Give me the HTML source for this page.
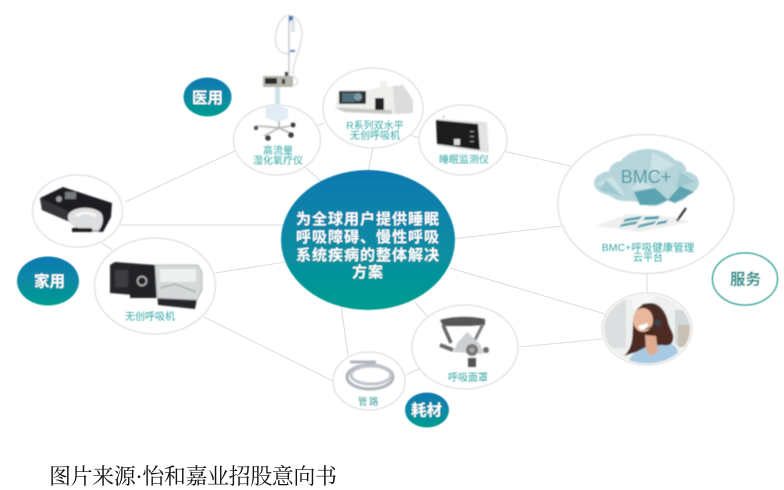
<!DOCTYPE html>
<html lang="zh"><head><meta charset="utf-8"><style>
html,body{margin:0;padding:0;background:#fff;width:784px;height:490px;overflow:hidden}
svg{display:block}
text{font-family:"Liberation Sans","Noto Sans CJK SC",sans-serif}
.l{fill:#36a8a6;font-size:10px;text-anchor:middle}
.w{fill:#fff;font-weight:700;text-anchor:middle}
.c{fill:#fff;stroke:#dfdfdf;stroke-width:1.3}
</style></head><body>
<svg width="784" height="490" viewBox="0 0 784 490" xmlns="http://www.w3.org/2000/svg">
<defs>
<linearGradient id="g" x1="0" y1="0" x2="0" y2="1"><stop offset="0" stop-color="#0d78b0"/><stop offset=".45" stop-color="#0a88a6"/><stop offset="1" stop-color="#029c90"/></linearGradient>
<filter id="b" x="-5%" y="-5%" width="110%" height="110%"><feGaussianBlur stdDeviation=".5"/></filter>
<filter id="p" x="-5%" y="-5%" width="110%" height="110%"><feGaussianBlur stdDeviation=".8"/></filter>
<clipPath id="wc"><ellipse cx="647" cy="329" rx="43" ry="34.500"/></clipPath>
</defs>
<g stroke="#dedede" stroke-width="1.1" fill="none">
<path d="M125 202L235 151M120 225H285M215 273L285 262M204 317L333 381M341 305L348 356M102 243L112 250M305 167L322 182M317 126L324 123M373 148L368 172M410 135L419 138M489 148L571 166M452 239L562 226M450 268L605 314M647 274V293M519 347L602 339M415 302L427 316M406 375L421 368"/>
</g>
<g filter="url(#b)">
<ellipse class="c" cx="277" cy="140" rx="43.5" ry="35"/>
<ellipse class="c" cx="373" cy="108" rx="50" ry="40"/>
<ellipse class="c" cx="463" cy="140" rx="44" ry="35"/>
<ellipse class="c" cx="646" cy="204" rx="88" ry="69.5"/>
<ellipse class="c" cx="647" cy="329" rx="45" ry="36"/>
<ellipse class="c" cx="465" cy="347" rx="53" ry="42"/>
<ellipse class="c" cx="369" cy="381" rx="36" ry="29"/>
<ellipse class="c" cx="155" cy="286" rx="60.5" ry="48"/>
<ellipse class="c" cx="77.500" cy="211" rx="45" ry="36"/>
</g>

<g filter="url(#p)">
<!-- high flow stand -->
<g fill="none" stroke="#d5dcdc" stroke-width="1.3">
<path d="M287 15C278 20 274 34 276 44C278 52 284 54 290 54"/>
<path d="M288 15C300 17 304 28 301 42C299 55 293 60 293 75"/>
<path d="M293 76C300 80 298 85 293 86"/>
</g>
<path d="M289 15V76" stroke="#b9bcbd" stroke-width="1.2"/>
<rect x="289" y="16" width="4" height="5" fill="#3f78b8"/>
<rect x="291" y="20" width="4" height="12" fill="#dfe3e5"/>
<rect x="290" y="50" width="5" height="2" fill="#5a8fc0"/>
<rect x="263" y="76" width="30" height="11" rx="1.500" fill="#b4b4ac"/>
<rect x="265" y="78" width="12" height="6" fill="#25292c"/>
<rect x="282" y="79" width="3" height="5" fill="#333"/>
<rect x="285" y="72" width="3" height="4" fill="#2a3a44"/>
<rect x="275" y="87" width="5" height="18" fill="#cfe0ea"/>
<path d="M265 106L278 104L288 109V118L278 122L266 118Z" fill="#e2ecf4"/>
<path d="M279 121V128L264 136M279 128L290 126M279 128L292 134M279 128L270 127L256 126" stroke="#b9babb" stroke-width="1.8" fill="none"/>
<g fill="#3a3d3e"><circle cx="268" cy="138" r="2.800"/><circle cx="291" cy="135" r="2.800"/><circle cx="256" cy="128" r="2"/><circle cx="293" cy="125" r="2.500"/></g>

<!-- R series -->
<path d="M335 108L339 90H368L382 87L403 85L413 100V113L392 114L345 112Z" fill="#efefed"/>
<path d="M393 86L403 85L413 100V113L395 114Z" fill="#dcdcdc"/>
<path d="M335 108L345 112L392 114V110L345 108Z" fill="#c8c8c5"/>
<rect x="339" y="91" width="27" height="13" rx="1" fill="#2b2f33"/>
<rect x="342" y="93" width="13" height="9" fill="#4f6f7c"/>
<circle cx="358" cy="97" r="4" fill="#7e9aa5"/>
<rect x="375" y="98" width="9" height="12" fill="#202020"/>
<rect x="380" y="81" width="7" height="6" fill="#f1f1f1"/>

<!-- sleep monitor -->
<path d="M436 119L487 122L489 153L438 146Z" fill="#e3e3e3"/>
<path d="M436 120L478 124L480 150L437 144Z" fill="#1c1c1e"/>
<rect x="454" y="139" width="6" height="6" fill="#dcdcdc"/>
<path d="M442 117L444 115L445 118Z" fill="#bbb"/>
<g fill="#999"><rect x="470" y="131" width="4" height="1"/><rect x="470" y="136" width="4" height="1"/><rect x="470" y="141" width="4" height="1"/></g>

<!-- cloud -->
<g fill="#b6d5da">
<ellipse cx="648" cy="172" rx="31" ry="23"/><ellipse cx="612" cy="183" rx="18" ry="12"/>
<ellipse cx="682" cy="183" rx="17" ry="12"/><ellipse cx="622" cy="172" rx="13" ry="11"/>
<ellipse cx="673" cy="170" rx="13" ry="10"/><ellipse cx="647" cy="189" rx="44" ry="13"/>
<ellipse cx="653" cy="197" rx="15" ry="9"/><ellipse cx="625" cy="194" rx="14" ry="7"/>
<ellipse cx="674" cy="194" rx="14" ry="8"/>
</g>
<path d="M640 205L634 192L655 188L668 200L656 205ZM668 200L680 186L694 192L675 203Z" fill="#5aa3b0"/>
<path d="M597 184L612 176L625 195ZM652 152L675 165L650 176ZM630 190L655 188L640 180Z" fill="#cbe2e6"/>
<path d="M606 180L622 196L600 190ZM680 172L695 182L676 188Z" fill="#9cc8d0"/>

<path d="M595 226L628 214L675 217L690 222L640 232Z" fill="#efefef"/>
<g fill="#3d9dad">
<path d="M625 219L642 216L640 219L623 222ZM622 224L638 221L636 224L619 227ZM645 217L660 216L658 219L643 220Z"/>
<path d="M639 225L656 221L654 224L637 228ZM658 222L668 220L666 223L656 225Z"/>
</g>
<path d="M677 221L686 208" stroke="#222" stroke-width="2"/>

<!-- operator -->
<g clip-path="url(#wc)">
<rect x="600" y="290" width="95" height="80" fill="#eef0f0"/>
<rect x="604" y="298" width="22" height="50" fill="#dcdfe0"/>
<rect x="632" y="296" width="22" height="12" fill="#f7f7f7"/>
<rect x="675" y="310" width="16" height="35" fill="#d2d8da"/>
<rect x="678" y="325" width="12" height="22" fill="#c8c0b4"/>
<path d="M628 362C636 346 650 342 665 342C676 344 680 350 678 362L672 368H634Z" fill="#a9c9e2"/>
<path d="M624 356C634 346 632 336 633 326C632 312 640 303 650 303C660 303 666 312 668 322C670 330 675 334 673 340C672 345 668 346 662 345L648 346L636 352Z" fill="#4d2a20"/>
<ellipse cx="643" cy="320" rx="10" ry="12" fill="#e7b89e"/>
<path d="M645 335L656 336L658 352L650 356L646 350Z" fill="#e0ac90"/>
<path d="M638 326L648 323L647 329L640 330Z" fill="#fff"/>
<path d="M642 305C652 302 660 310 659 323" stroke="#333" stroke-width="1.300" fill="none"/>
<circle cx="658" cy="323" r="3.500" fill="#3a4248"/>
<path d="M657 326L645 329" stroke="#333" stroke-width="1"/>
</g>

<!-- mask -->
<path d="M440 320C452 316 472 316 485 319V325L470 326L443 326Z" fill="#575757"/>
<path d="M443 325L451 343" stroke="#666" stroke-width="3.500"/>
<path d="M483 324L475 340" stroke="#7a7a7a" stroke-width="3"/>
<path d="M467 332L480 344L484 354L453 352L458 342Z" fill="#ccd0d3"/>
<path d="M440 345L453 350" stroke="#6b6b6b" stroke-width="4"/>
<circle cx="472" cy="350" r="6" fill="#777"/><circle cx="472" cy="350" r="2.500" fill="#aaa"/>
<circle cx="486" cy="350" r="3" fill="#6d6d6d"/>
<rect x="468" y="358" width="8" height="9" fill="#555"/>

<!-- tube -->
<g fill="none" stroke="#aeb2bb" stroke-width="3">
<ellipse cx="370" cy="377" rx="23" ry="12"/>
<ellipse cx="371" cy="375" rx="20" ry="9" stroke="#c0c3ca"/>
<path d="M350 362H376"/>
</g>

<!-- ventilator -->
<path d="M110 265L115 262L155 265L158 305L195 309L197 299L157 297L110 293Z" fill="#28282c"/>
<rect x="115" y="270" width="13" height="17" fill="#3d3d41"/>
<rect x="130" y="266" width="27" height="32" fill="#242427"/>
<circle cx="142" cy="281" r="4.500" fill="none" stroke="#b8b8b8" stroke-width="1.500"/>
<path d="M155 265L198 265L202 272V290L197 300L157 298Z" fill="#d5d8d8" stroke="#a5a8a8" stroke-width=".8"/>
<path d="M160 269H196V282H160Z" fill="#eef0f0"/>
<path d="M160 288L175 284L196 292" stroke="#999" stroke-width="1" fill="none"/>

<!-- home device -->
<path d="M40 198L63 187L112 203L111 217L103 232L78 230L70 222L42 210Z" fill="#1e1e21"/>
<path d="M40 198L42 210L70 222L70 212Z" fill="#34343a"/>
<rect x="65" y="192" width="11" height="7" fill="#77797b"/>
<circle cx="59" cy="199" r="3" fill="#9a9c9e"/>
<path d="M68 215C72 207 90 205 100 212C105 216 103 227 98 231L78 228C72 226 67 222 68 215Z" fill="#dcdedf"/>
<path d="M76 216C82 212 90 212 96 216" stroke="#f8f8f8" stroke-width="3" fill="none"/>
<rect x="72" y="228" width="20" height="4" fill="#1a1a1a"/>
</g>

<g filter="url(#b)">
<text class="l" x="278" y="154">高流量</text>
<text class="l" x="278" y="164">湿化氧疗仪</text>
<text class="l" x="375" y="129">R系列双水平</text>
<text class="l" x="375" y="139">无创呼吸机</text>
<text class="l" x="464" y="163">睡眠监测仪</text>
<text x="646" y="183" text-anchor="middle" fill="#5b9ea8" font-size="18" style="font-family:'Liberation Sans',sans-serif">BMC+</text>
<text class="l" x="648" y="251" style="font-size:10.500px">BMC+呼吸健康管理</text>
<text class="l" x="648" y="261" style="font-size:10px">云平台</text>
<text class="l" x="468" y="381">呼吸面罩</text>
<text class="l" x="369" y="405" style="font-size:9.500px;letter-spacing:1.500px;fill:#3f9e9a">管路</text>
<text class="l" x="150" y="320">无创呼吸机</text>

<!-- center -->
<ellipse cx="368" cy="240" rx="87" ry="70" fill="url(#g)"/>
<text class="w" x="368" y="224" font-size="15" letter-spacing="1">为全球用户提供睡眠</text>
<text class="w" x="368" y="242" font-size="15" letter-spacing="1">呼吸障碍、慢性呼吸</text>
<text class="w" x="368" y="260" font-size="15" letter-spacing="1">系统疾病的整体解决</text>
<text class="w" x="368" y="277" font-size="15" letter-spacing="1">方案</text>

<!-- tags -->
<ellipse cx="207.500" cy="97" rx="24" ry="19.500" fill="url(#g)"/>
<text class="w" x="207.500" y="103" font-size="15.500">医用</text>
<ellipse cx="48" cy="281" rx="31" ry="24.500" fill="url(#g)"/>
<text class="w" x="49.500" y="286.500" font-size="15.500">家用</text>
<ellipse cx="427" cy="410" rx="22" ry="17.500" fill="url(#g)"/>
<text class="w" x="426.500" y="415.500" font-size="15.500">耗材</text>
<ellipse cx="745" cy="279" rx="32.500" ry="26" fill="#fff" stroke="#2ea8a0" stroke-width="1.500"/>
<text class="w" x="745.500" y="284.500" font-size="15.500" style="fill:#17908a">服务</text>
</g>

<text x="49" y="484" font-size="22" textLength="288" lengthAdjust="spacing" fill="#111" style="font-family:'Liberation Serif','Noto Serif CJK SC',serif">图片来源·怡和嘉业招股意向书</text>
</svg>
</body></html>
